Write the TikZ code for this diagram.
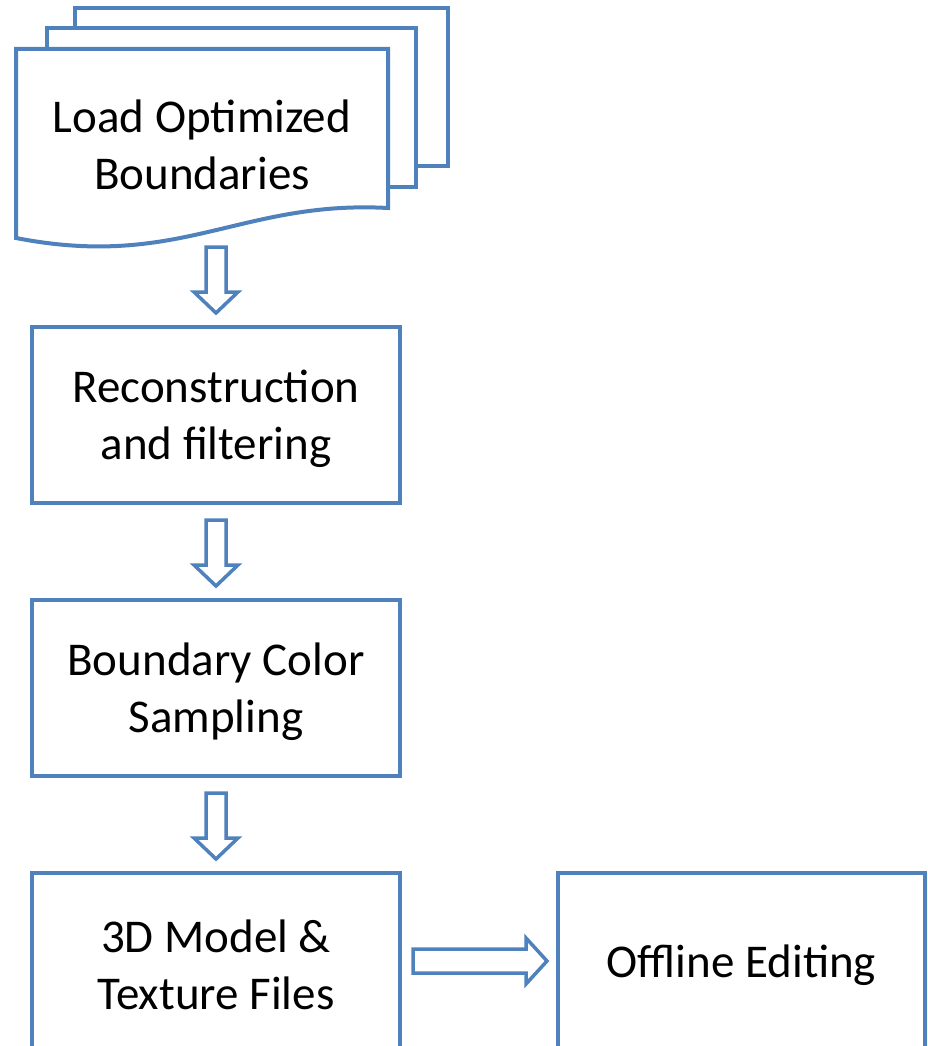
\documentclass[tikz,border=0pt]{standalone}
\usepackage{fontspec}
\setmainfont{Carlito}
\usetikzlibrary{calc}
\definecolor{flowblue}{HTML}{4F81BD}
\newcommand\flowfont{\fontsize{47}{57}\selectfont}
\begin{document}
\begin{tikzpicture}[x=1pt,y=-1pt,
  stepbox/.style={draw=flowblue,line width=4pt,fill=white,minimum width=368pt,
    minimum height=176pt,inner sep=0pt,outer sep=0pt},
  steptext/.style={align=center,font=\flowfont,inner sep=0pt},
  docpage/.style={draw=flowblue,line width=4pt,fill=white},
  hollow/.style={draw=flowblue,line width=3.5pt,fill=white,line join=miter},
  downarr/.pic={\draw[hollow] (-10,-66) -- (10,-66) -- (10,-21) -- (22,-21) -- (0,0)
    -- (-22,-21) -- (-10,-21) -- cycle;},
  rightarr/.pic={\draw[hollow] (0,-12) -- (113,-12) -- (113,-23) -- (134,0)
    -- (113,23) -- (113,12) -- (0,12) -- cycle;}
]
\useasboundingbox (0,0) rectangle (928,1046);
\clip (0,0) rectangle (928,1046);

% stacked document pages
\draw[docpage] (75,8) rectangle (448,166);
\draw[docpage] (47,28) rectangle (416,187);
\draw[docpage] (16,49) -- (388,49) -- (388,208)
  .. controls (240,200) and (180,270) .. (16,238) -- cycle;
\node[steptext] (load) at (202,145) {Load Optimized\\Boundaries};

% process steps
\node[stepbox] (recon) at (216,415) {};
\node[steptext] (recon-t) at ([yshift=-4pt]recon.center) {Reconstruction\\and filtering};
\node[stepbox] (sample) at (216,688) {};
\node[steptext] (sample-t) at ([yshift=-4pt]sample.center) {Boundary Color\\Sampling};
\node[stepbox] (model) at (216,961) {};
\node[steptext] (model-t) at ([yshift=-4pt]model.center) {3D Model \&\\Texture Files};
\node[stepbox,minimum width=367pt] (offline) at (741.5,961) {};
\node[steptext] (offline-t) at ([yshift=-4pt]offline.center) {Offline Editing};

% block arrows
\pic at ([yshift=14pt]recon.north) {downarr};
\pic at ([yshift=14pt]sample.north) {downarr};
\pic at ([yshift=14pt]model.north) {downarr};
\pic at ([xshift=13pt]model.east) {rightarr};
\end{tikzpicture}
\end{document}
